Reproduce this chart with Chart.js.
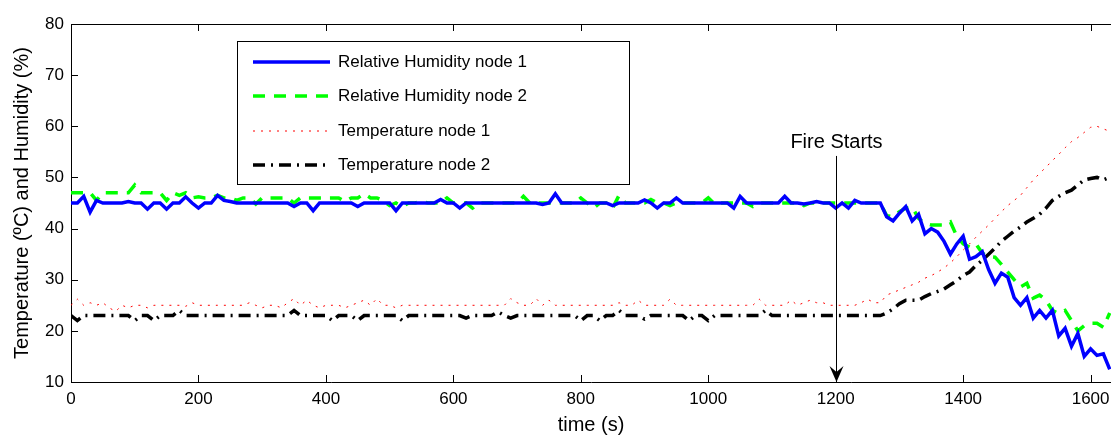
<!DOCTYPE html>
<html>
<head>
<meta charset="utf-8">
<script src="https://cdn.jsdelivr.net/npm/chart.js@4/dist/chart.umd.min.js"></script>
<style>
  body { margin: 0; background: #fff; }
  canvas { display: block; }
</style>
</head>
<body>
<canvas id="grafico" width="1111" height="437"></canvas>
<script>
// tiempo de muestreo (s)
const tiempos = [0,10,20,30,40,50,60,70,80,90,100,110,120,130,140,150,160,170,180,190,
  200,210,220,230,240,250,260,270,280,290,300,310,320,330,340,350,360,370,380,390,
  400,410,420,430,440,450,460,470,480,490,500,510,520,530,540,550,560,570,580,590,
  600,610,620,630,640,650,660,670,680,690,700,710,720,730,740,750,760,770,780,790,
  800,810,820,830,840,850,860,870,880,890,900,910,920,930,940,950,960,970,980,990,
  1000,1010,1020,1030,1040,1050,1060,1070,1080,1090,1100,1110,1120,1130,1140,1150,1160,1170,1180,1190,
  1200,1210,1220,1230,1240,1250,1260,1270,1280,1290,1300,1310,1320,1330,1340,1350,1360,1370,1380,1390,
  1400,1410,1420,1430,1440,1450,1460,1470,1480,1490,1500,1510,1520,1530,1540,1550,1560,1570,1580,1590,
  1600,1610,1620,1630];

const humedadNodo1 = [45,45,46.3,43.2,45.5,45,45,45,45,45.3,45,45,43.8,45,45,43.8,45,45,46.2,45,
  44,45,45,46.5,45.5,45.3,45,45,45,45,45,45,45,45,45,44.3,45,45,43.5,45,
  45,45,45,45,45,44.3,45,45,45,45,45,43.5,45,45,45,45,45,45,45.7,45,
  45,44,45,45,45,45,45,45,45,45,45,45,45,45,44.7,45,46.8,45,45,45,
  45,45,45,45,45,44.5,45,45,45,45,45.6,45,44,45,45,46,45,45,45,45,
  45,45,45,45,44,46.3,45,45,45,45,45,45,46.3,45,45,44.8,45,45.3,45,45,
  44,45,44,45.5,45,45,45,45,42.3,41.5,43,44.3,41.5,42.8,39,40,39.3,37.5,35,37,
  38.5,34,34.5,35.5,32,29.3,31.3,30.5,26.5,25,26.5,22.5,24,22.5,24,19,20.5,17,19.5,15,
  16.5,15.2,15.5,12.5];

const humedadNodo2 = [47,47,47,47,45.5,47,47,47,47,47,48.5,47,47,47,47,45.5,47,46.5,47,46,
  46.2,46,46,46.5,46,46,45.5,46,46,44.8,46,46,46,46,46,45,46,46,46,46,
  46,46,46,45.3,46,46,46.8,46,46,45.5,44.5,45,44.3,45,45,45.3,45,45,45,46,
  45,45,45,44,45,45,45,45,45,45,45,46.3,45,45,45,45,45,45,45,45,
  46,45,44,45,45,44,46.5,45,45,45,45,45.7,45,45,44.5,45,45,45,45,45,
  46,44.8,45,45,45,45,45,44.3,45,45,45,45,45,45,45,44.5,45,45,45,45,
  45,45,45,45,45,45,45,45,42.5,42.3,43.3,44,44.2,42,41,40.7,40.7,40.7,41.3,38.5,
  37,36.4,37,35.2,34.5,34.4,33,31.5,30,28.6,29.3,26.4,27,26,24,23.4,24,22,20,21,
  21.5,21.5,20.7,23.5];

const temperaturaNodo1 = [25,26.2,25,25.5,25,25.5,24.5,23.8,25,24.5,25,25,24.5,25,25,25,25,25,24.8,25.5,
  25,25,25,25,25,25,25,25,25.5,25,24.5,25,25,24.5,25.5,26.3,25,26,25,24.5,
  25,25,25,24.5,25,25.5,26,25,26.3,25,25,24.5,25,25,25,25,25,25,25,25,
  25,25,25,25,25,25,25,25,25,26.3,25.5,25,25,26.3,25,26,25,25,25,25,
  25,25,25,25,25,25,25.5,25,25,26,25,25,25,25,26.2,25,25,25,25,25,
  25,25,25,25,25,25,25,25,26.2,25,25,25,25,26,25,25.5,26,25.5,25.5,25,
  25,25,25,25,25.5,26.2,25.5,25.5,27,27.5,28,28.5,29,29.5,30.3,30.8,31.5,32.3,33.3,34.5,
  35.8,37,38.3,39.5,40.7,42,43.3,44.5,45.5,46.5,48,49.5,50.8,52,53.3,54.5,55.8,57,57.8,58.8,
  59.8,60,59.5,59];

const temperaturaNodo2 = [23,22,23,23,23,23,23,23,23,23,22,23,23,22,23,23,23,24,23,23,
  23,23,23,23,23,23,23,23,23,23,23,23,23,23,23,24,23,23,23,23,
  23,22,23,23,23,22,23,23,23,23,23,23,22,23,23,23,23,23,23,23,
  23,23,22.5,23,23,23,23,23.7,23,22.5,23,23,23,23,23,23,23,23,23,23,
  22,23,23,22,23,23,24,23,23,23,22.3,23,23,23,23,23,23,22,23,23,
  22,23,23,23,23,23,23,23,23,24,23,23,23,23,23,23,23,23,23,23,
  23,23,23,23,23,23,23,23,23.5,24.3,25.3,26,26,26,26.7,27.3,27.7,28.2,29,29.8,
  30.8,31.5,32.8,33.8,35,36.2,37.5,38.5,39.5,40.3,41.3,42,42.8,44,45.5,46.3,47,47.5,48.5,49.5,
  49.8,50,49.5,50];

const ticksX = [0,200,400,600,800,1000,1200,1400,1600];
const ticksY = [10,20,30,40,50,60,70,80];
const inicioFuego = 1200;
const textoFuego = 'Fire Starts';

const fuente = '"Liberation Sans", Arial, sans-serif';

function puntos(valores) {
  return tiempos.map((t, i) => ({ x: t, y: valores[i] }));
}

// ticks hacia adentro, borde superior, leyenda y flecha
const extras = {
  id: 'extras',
  afterDraw(chart) {
    const ctx = chart.ctx;
    const a = chart.chartArea;
    const sx = chart.scales.x, sy = chart.scales.y;
    ctx.save();
    ctx.strokeStyle = '#000';
    ctx.lineWidth = 1;
    ctx.beginPath();
    ctx.moveTo(a.left, a.top + 0.5);
    ctx.lineTo(a.right, a.top + 0.5);
    ticksX.forEach(v => {
      const px = Math.round(sx.getPixelForValue(v)) + 0.5;
      ctx.moveTo(px, a.bottom); ctx.lineTo(px, a.bottom - 7);
      ctx.moveTo(px, a.top); ctx.lineTo(px, a.top + 7);
    });
    ticksY.forEach(v => {
      const py = Math.round(sy.getPixelForValue(v)) + 0.5;
      ctx.moveTo(a.left, py); ctx.lineTo(a.left + 7, py);
    });
    ctx.stroke();

    // flecha de inicio de incendio
    const fx = Math.round(sx.getPixelForValue(inicioFuego)) + 0.5;
    const yTop = sy.getPixelForValue(54.2);
    const yBot = a.bottom;
    ctx.beginPath();
    ctx.moveTo(fx, yTop); ctx.lineTo(fx, yBot - 4);
    ctx.stroke();
    ctx.fillStyle = '#000';
    ctx.beginPath();
    ctx.moveTo(fx, yBot);
    ctx.lineTo(fx - 7, yBot - 16);
    ctx.lineTo(fx, yBot - 10);
    ctx.lineTo(fx + 7, yBot - 16);
    ctx.closePath();
    ctx.fill();
    ctx.font = '20px ' + fuente;
    ctx.textAlign = 'center';
    ctx.textBaseline = 'middle';
    ctx.fillText(textoFuego, fx, sy.getPixelForValue(56.9));

    // leyenda
    const lx = 237, ly = 41, lw = 392, lh = 143;
    ctx.fillStyle = '#fff';
    ctx.fillRect(lx, ly, lw, lh);
    ctx.strokeRect(lx + 0.5, ly + 0.5, lw, lh);
    const filas = [62, 96, 131, 165];
    chart.data.datasets.forEach((ds, i) => {
      const y = filas[i];
      ctx.save();
      ctx.strokeStyle = ds.borderColor;
      ctx.lineWidth = ds.borderWidth;
      ctx.setLineDash(ds.borderDash || []);
      ctx.beginPath();
      ctx.moveTo(253, y); ctx.lineTo(330, y);
      ctx.stroke();
      ctx.restore();
      ctx.fillStyle = '#000';
      ctx.font = '17px ' + fuente;
      ctx.textAlign = 'left';
      ctx.textBaseline = 'middle';
      ctx.fillText(ds.label, 338, y);
    });
    ctx.restore();
  }
};

new Chart(document.getElementById('grafico'), {
  type: 'line',
  data: {
    datasets: [
      { label: 'Relative Humidity node 1', data: puntos(humedadNodo1), borderColor: '#0000ff', borderWidth: 3.5 },
      { label: 'Relative Humidity node 2', data: puntos(humedadNodo2), borderColor: '#00ff00', borderWidth: 3.5, borderDash: [12, 9] },
      { label: 'Temperature node 1', data: puntos(temperaturaNodo1), borderColor: '#ff0000', borderWidth: 1, borderDash: [2, 6] },
      { label: 'Temperature node 2', data: puntos(temperaturaNodo2), borderColor: '#000000', borderWidth: 3.5, borderDash: [12, 6, 2, 6] }
    ]
  },
  options: {
    responsive: false,
    animation: false,
    elements: { point: { radius: 0 }, line: { tension: 0 } },
    layout: { autoPadding: false, padding: { top: 24, right: 0, left: 0, bottom: 0 } },
    plugins: { legend: { display: false }, tooltip: { enabled: false } },
    scales: {
      x: {
        type: 'linear', min: 0, max: 1632,
        afterFit(s) { s.height = 55; s.paddingLeft = 0; s.paddingRight = 0; },
        afterBuildTicks(s) { s.ticks = ticksX.map(v => ({ value: v })); },
        grid: { display: false, drawTicks: false },
        border: { display: true, color: '#000', width: 1 },
        ticks: { color: '#000', font: { family: fuente, size: 17 }, padding: 7, maxRotation: 0, callback: v => String(v) },
        title: { display: true, text: 'time (s)', color: '#000', font: { family: fuente, size: 20 }, padding: { top: 0, bottom: 0 } }
      },
      y: {
        min: 10, max: 80,
        afterFit(s) { s.width = 71; },
        afterBuildTicks(s) { s.ticks = ticksY.map(v => ({ value: v })); },
        grid: { display: false, drawTicks: false },
        border: { display: true, color: '#000', width: 1 },
        ticks: { color: '#000', font: { family: fuente, size: 17 }, padding: 7 },
        title: { display: true, text: 'Temperature (ºC) and Humidity (%)', color: '#000', font: { family: fuente, size: 20 }, padding: { top: 10, bottom: 0 } }
      }
    }
  },
  plugins: [extras]
});
</script>
</body>
</html>
